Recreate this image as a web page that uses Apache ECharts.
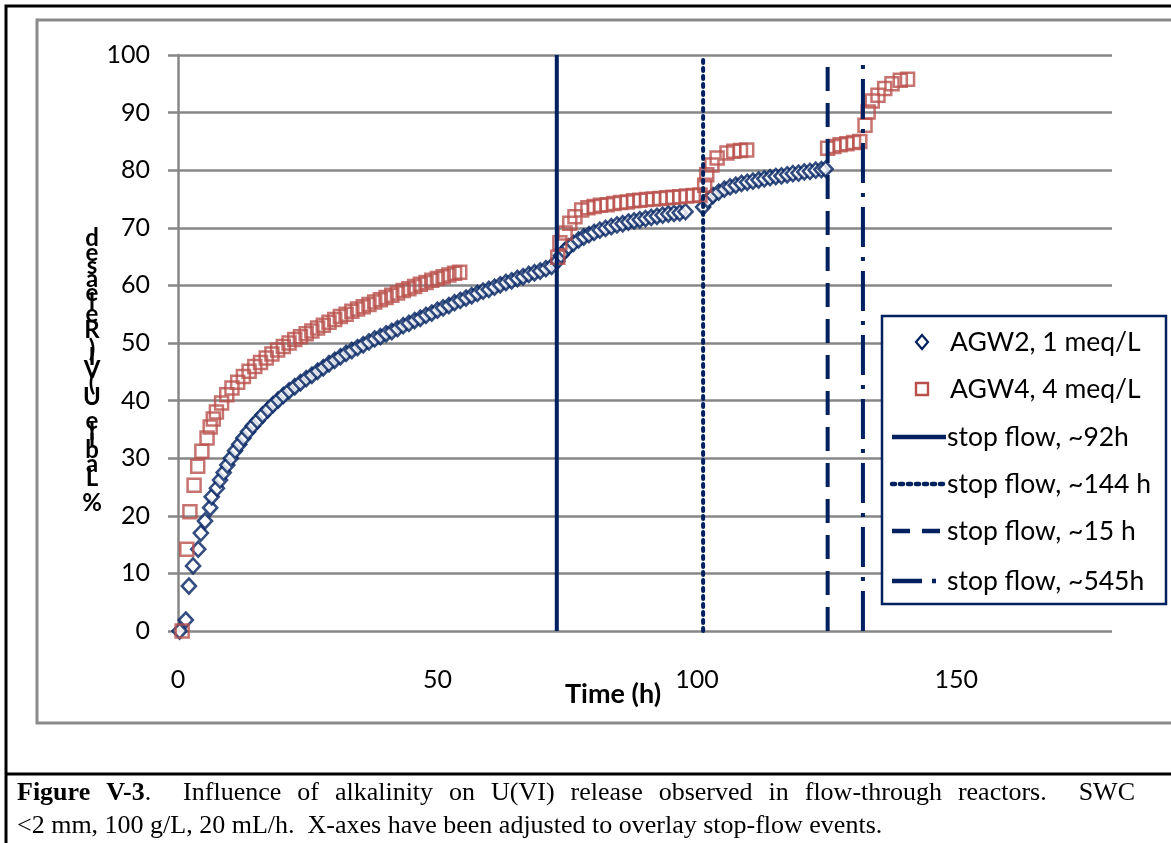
<!DOCTYPE html>
<html><head><meta charset="utf-8">
<script src="https://cdn.jsdelivr.net/npm/echarts@6/dist/echarts.min.js"></script>
<style>html,body{margin:0;padding:0;background:#fff}#c{width:1171px;height:843px}</style>
</head><body><div id="c"></div>
<script>
// ---- data ----
const xTicks = [0, 50, 100, 150];
const yTicks = [0, 10, 20, 30, 40, 50, 60, 70, 80, 90, 100];
const seriesNames = ['AGW2, 1 meq/L', 'AGW4, 4 meq/L'];
const agw2 = [
 [0.3,0],[1.5,1.9],[2.1,7.8],[2.9,11.3],[3.9,14.2],[4.4,17],[5.2,19.1],[6.2,21.4],[6.5,23.3],[7.5,24.8],
 [8.1,26.2],[8.8,27.5],[9.5,28.8],[10.2,30],[11,31.3],[11.8,32.4],[12.6,33.5],[13.5,34.6],[14.4,35.6],[15.3,36.5],
 [16.3,37.5],[17.3,38.4],[18.3,39.3],[19.3,40.1],[20.3,40.9],[21.4,41.7],[22.5,42.4],[23.6,43.1],[24.7,43.8],[25.8,44.4],
 [26.9,45.1],[28,45.7],[29.1,46.4],[30.2,47],[31.3,47.6],[32.4,48.2],[33.5,48.7],[34.6,49.2],[35.7,49.7],[36.8,50.2],
 [37.9,50.7],[39,51.1],[40.1,51.6],[41.2,52],[42.3,52.5],[43.4,53],[44.5,53.4],[45.6,53.9],[46.7,54.3],[47.8,54.8],
 [48.9,55.2],[50,55.7],[51.1,56.1],[52.2,56.5],[53.3,57],[54.4,57.4],[55.5,57.8],[56.6,58.2],[57.7,58.6],[58.8,59],
 [59.9,59.3],[61,59.7],[62.1,60.1],[63.2,60.5],[64.3,60.8],[65.4,61.2],[66.5,61.5],[67.6,61.9],[68.7,62.2],[69.8,62.5],
 [70.9,62.9],[72,63.3],[73.1,64.2],[73.8,65.2],[74.5,66],[75.3,66.7],[76.2,67.3],[77.2,67.9],[78.2,68.4],[79.2,68.8],
 [80.2,69.2],[81.3,69.6],[82.4,69.9],[83.5,70.2],[84.6,70.5],[85.7,70.7],[86.8,71],[87.9,71.2],[89,71.4],[90.1,71.6],
 [91.2,71.8],[92.3,72],[93.4,72.2],[94.5,72.4],[95.6,72.5],[96.7,72.6],[97.8,72.8],
 [101.2,73.6],[102.1,74.8],[103.1,75.6],[104.2,76.2],[105.3,76.7],[106.4,77.1],[107.5,77.4],[108.6,77.7],[109.7,77.9],[110.8,78.1],
 [111.9,78.3],[113,78.5],[114.1,78.7],[115.2,78.9],[116.3,79],[117.4,79.2],[118.5,79.4],[119.6,79.5],[120.7,79.7],[121.8,79.8],
 [122.9,80],[124,80.1],[124.8,80.2]
];
const agw4 = [
 [0.8,0],[1.7,14.2],[2.3,20.7],[3.1,25.3],[3.8,28.6],[4.6,31.2],[5.6,33.5],[6.2,35.4],[6.8,36.8],[7.4,38],
 [8.4,39.6],[9.4,41],[10.4,42.2],[11.5,43.2],[12.6,44.2],[13.7,45.1],[14.8,45.9],[15.9,46.6],[17,47.4],[18.1,48.1],
 [19.2,48.8],[20.3,49.4],[21.4,50],[22.5,50.6],[23.6,51.1],[24.7,51.6],[25.8,52.1],[26.9,52.6],[28,53.1],[29.1,53.6],
 [30.2,54.1],[31.3,54.6],[32.4,55],[33.5,55.5],[34.6,55.9],[35.7,56.3],[36.8,56.7],[37.9,57.1],[39,57.5],[40.1,57.9],
 [41.2,58.3],[42.3,58.7],[43.4,59.1],[44.5,59.4],[45.6,59.8],[46.7,60.2],[47.8,60.5],[48.9,60.9],[50,61.2],[51.1,61.5],
 [52.2,61.8],[53.3,62.1],[54.3,62.3],
 [73.2,64.9],[73.6,67.4],[74.6,69.1],[75.5,70.8],[76.5,71.9],[77.8,73.1],[79,73.5],[80.2,73.7],[81.4,73.9],[82.7,74],
 [84,74.2],[85.3,74.4],[86.6,74.5],[87.8,74.7],[89,74.8],[90.3,74.9],[91.6,75],[92.9,75.1],[94.2,75.2],[95.4,75.3],
 [96.7,75.4],[98,75.5],[99.3,75.6],[100.6,75.7],[101.5,77.4],[101.9,79.2],[102.9,80.9],[103.9,82.1],[105.8,83],[107.1,83.3],
 [108.4,83.4],[109.6,83.5],
 [125.2,83.8],[126.4,84.1],[127.6,84.4],[128.9,84.6],[130.2,84.8],[131.4,85],[132.4,87.8],[133,90.1],[133.8,92],[134.9,93],
 [136.2,94.2],[137.6,95],[139.2,95.6],[140.6,95.8]
];
const stopNames = ['stop flow, ~92h', 'stop flow, ~144 h', 'stop flow, ~15 h', 'stop flow, ~545h'];
const stopTimes = [73, 101.2, 125.2, 132];
const yLabelText = '% Labile U(VI) Released';
const xLabelText = 'Time (h)';
const captionBold = 'Figure V-3';
const captionRest1 = '.  Influence of alkalinity on U(VI) release observed in flow-through reactors.  SWC';
const captionLine2 = '<2 mm, 100 g/L, 20 mL/h.  X-axes have been adjusted to overlay stop-flow events.';

// ---- styles ----
const NAVY = '#002060', RED = '#B9504C', GRID = '#878787';
const stopDash = ['solid', [3, 5], [24, 12], [40, 10, 4, 10]];
const stopCap = ['butt', 'round', 'butt', 'butt'];

const chart = echarts.init(document.getElementById('c'), null, {renderer: 'canvas'});
const measure = document.createElement('canvas').getContext('2d');

const series = [
  {name: seriesNames[0], type: 'scatter', data: agw2, symbol: 'diamond', symbolSize: [14, 15],
   itemStyle: {color: '#fff', borderColor: NAVY, borderWidth: 2.6}, z: 3},
  {name: seriesNames[1], type: 'scatter', data: agw4, symbol: 'rect', symbolSize: 13,
   itemStyle: {color: 'rgba(255,255,255,0)', borderColor: RED, borderWidth: 2.5}, z: 4}
];
stopTimes.forEach((t, i) => {
  series.push({name: stopNames[i], type: 'line', data: [[t, 0], [t, 100]], symbol: 'none', z: 5,
    lineStyle: {color: NAVY, width: 4, type: stopDash[i], cap: stopCap[i]}, silent: true});
});

// y label: upright stacked characters, bottom to top
const yFont = 'bold 24px Lato';
measure.font = yFont;
const chars = yLabelText.split('');
const widths = chars.map(c => measure.measureText(c).width);
const centers = []; let acc = 0;
widths.forEach(w => { centers.push(acc + w / 2); acc += w; });
const yBottom = 503, yTop = 238;
const sc = (yBottom - yTop) / (centers[centers.length - 1] - centers[0]);
const yLabelEls = chars.map((c, i) => ({
  type: 'text', x: 92, y: yBottom - (centers[i] - centers[0]) * sc,
  style: {text: c, font: yFont, fill: '#000', align: 'center', verticalAlign: 'middle'}, z: 10
}));

// caption line 1, justified between x0 and x1
const capSize = 26;
const fN = capSize + 'px "Liberation Serif"', fB = 'bold ' + capSize + 'px "Liberation Serif"';
const capX0 = 17, capX1 = 1135;
const pieces = [];
[[captionBold, true], [captionRest1, false]].forEach(([txt, bold]) => {
  txt.split(' ').forEach((p, j) => {
    if (j > 0) pieces.push({space: true});
    if (p) pieces.push({text: p, bold: bold});
  });
});
measure.font = fN; const spaceW = measure.measureText(' ').width;
let natural = 0, nSp = 0;
pieces.forEach(p => {
  if (p.space) { natural += spaceW; nSp++; }
  else { measure.font = p.bold ? fB : fN; p.w = measure.measureText(p.text).width; natural += p.w; }
});
const extra = Math.max(0, (capX1 - capX0 - natural) / nSp);
const captionEls = []; let cx = capX0;
pieces.forEach(p => {
  if (p.space) { cx += spaceW + extra; return; }
  captionEls.push({type: 'text', x: cx, y: 793, style: {text: p.text, font: p.bold ? fB : fN, fill: '#000', verticalAlign: 'middle'}});
  cx += p.w;
});
captionEls.push({type: 'text', x: capX0, y: 826, style: {text: captionLine2, font: fN, fill: '#000', verticalAlign: 'middle'}});

// legend (drawn as graphic)
const legX = 882, legY = 316, legW = 284, legH = 288;
const rowY = [342, 389, 437, 484, 531, 581];
const legendEls = [
  {type: 'rect', shape: {x: legX, y: legY, width: legW, height: legH},
   style: {fill: '#fff', stroke: NAVY, lineWidth: 2.5}, z: 20},
  {type: 'polygon', shape: {points: [[922, rowY[0] - 7], [928, rowY[0]], [922, rowY[0] + 7], [916, rowY[0]]]},
   style: {fill: '#fff', stroke: NAVY, lineWidth: 2.2}, z: 21},
  {type: 'rect', shape: {x: 916, y: rowY[1] - 6, width: 12, height: 12},
   style: {fill: '#fff', stroke: RED, lineWidth: 2.4}, z: 21}
];
const legDash = ['solid', [3, 5], [18, 12], [30, 10, 4, 10]];
stopNames.forEach((n, i) => {
  legendEls.push({type: 'line', shape: {x1: 892, y1: rowY[i + 2], x2: 946, y2: rowY[i + 2]},
    style: {stroke: NAVY, lineWidth: 4.5, lineDash: legDash[i] === 'solid' ? null : legDash[i], lineCap: stopCap[i]}, z: 21});
});
seriesNames.concat(stopNames).forEach((n, i) => {
  legendEls.push({type: 'text', x: i < 2 ? 950 : 947, y: rowY[i],
    style: {text: n, font: '26.5px Lato', fill: '#000', verticalAlign: 'middle'}, z: 21});
});

const option = {
  animation: false,
  backgroundColor: '#fff',
  grid: {left: 178, top: 55, right: 59, bottom: 212, containLabel: false},
  xAxis: {type: 'value', min: 0, max: 180, interval: 50,
    axisLine: {show: false}, axisTick: {show: false}, splitLine: {show: false},
    axisLabel: {fontFamily: 'Lato', fontSize: 25, color: '#000', margin: 36,
      formatter: v => xTicks.includes(v) ? String(v) : ''}},
  yAxis: {type: 'value', min: 0, max: 100, interval: 10,
    axisLine: {show: true, lineStyle: {color: GRID, width: 2.5}},
    axisTick: {show: true, inside: false, length: 10, lineStyle: {color: GRID, width: 2.5}},
    splitLine: {show: true, lineStyle: {color: GRID, width: 2.5}},
    axisLabel: {fontFamily: 'Lato', fontSize: 25, color: '#000', margin: 28,
      formatter: v => yTicks.includes(v) ? String(v) : ''}},
  series: series,
  graphic: [
    {type: 'polyline', shape: {points: [[6, 843], [6, 6], [1171, 6]]}, style: {stroke: '#000', lineWidth: 3, fill: null}},
    {type: 'line', shape: {x1: 6, y1: 774, x2: 1171, y2: 774}, style: {stroke: '#000', lineWidth: 3}},
    {type: 'polyline', shape: {points: [[1172, 723], [37, 723], [37, 20], [1172, 20]]}, style: {stroke: '#8a8a8a', lineWidth: 3, fill: null}},
    {type: 'text', x: 613, y: 694, style: {text: xLabelText, font: 'bold 27px Lato', fill: '#000', align: 'center', verticalAlign: 'middle'}}
  ].concat(captionEls, yLabelEls, legendEls)
};
chart.setOption(option);
</script></body></html>
